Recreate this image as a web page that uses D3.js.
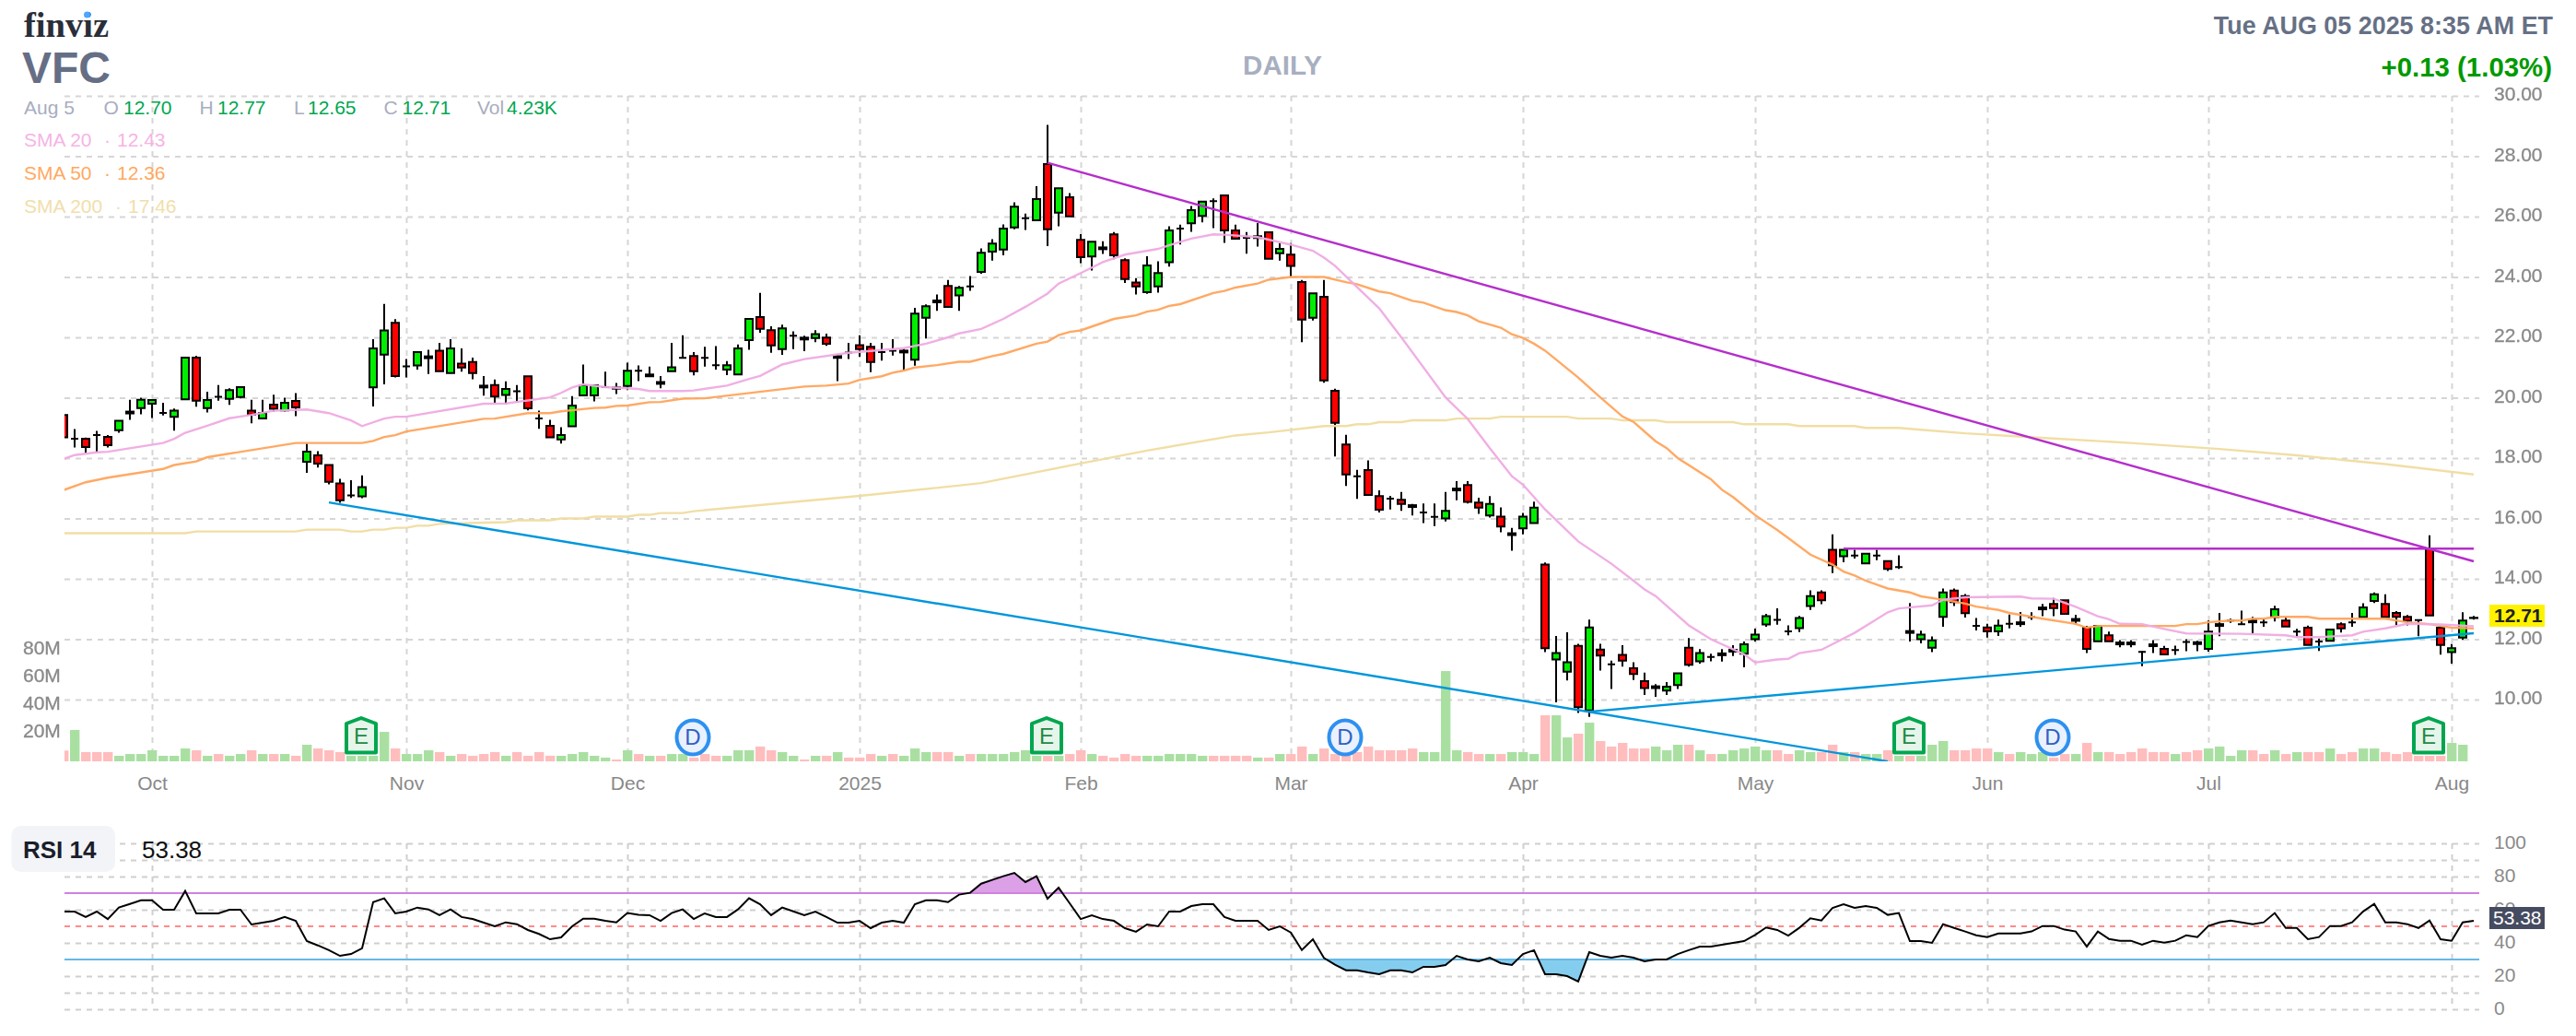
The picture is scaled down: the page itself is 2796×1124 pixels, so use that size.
<!DOCTYPE html>
<html>
<head>
<meta charset="utf-8">
<script src="https://cdnjs.cloudflare.com/ajax/libs/d3/7.8.5/d3.min.js"></script>
<style>
html,body{margin:0;padding:0;background:#fff;}
svg{display:block;font-family:"Liberation Sans",Arial,sans-serif;}
.blur text{filter:blur(0.55px);stroke:#8a8a8a;stroke-width:.35px;}
</style>
</head>
<body>
<svg id="c" width="2796" height="1124"></svg>
<script>
const opens=[19.43,18.64,18.64,18.76,18.70,18.92,19.54,19.66,19.8,19.5,
19.37,19.95,21.33,19.66,20.03,19.96,20.02,19.57,19.31,19.77,
19.58,19.89,17.88,18.09,17.77,17.16,16.76,16.73,20.34,21.43,
22.48,21.04,21.07,21.37,21.56,20.82,21.13,21.18,20.4,20.42,
20.09,20.21,20.71,19.31,19.07,18.62,19.05,20.08,20.08,20.35,
20.34,20.39,20.89,20.77,20.52,20.88,21.32,21.38,21.32,21.08,
20.93,20.77,21.91,22.67,22.24,21.61,22.05,21.99,21.98,21.99,
21.38,21.5,21.74,21.69,21.51,21.56,21.56,21.26,22.65,23.22,
23.7,23.39,23.69,24.17,24.84,24.91,25.64,25.95,25.88,27.74,
26.13,26.64,25.23,24.68,24.98,25.41,24.56,23.82,23.5,23.69,
24.49,25.6,25.78,26.02,26.51,26.7,25.54,25.3,25.35,25.48,
24.79,24.74,23.83,22.65,23.34,20.23,18.45,17.4,17.6,16.74,
16.66,16.62,16.44,16.2,16.05,16.0,16.99,17.11,16.53,16.1,
16.06,15.51,15.67,15.85,14.47,11.33,10.92,11.78,9.64,11.66,
11.17,11.48,11.04,10.61,10.44,10.3,10.48,11.72,11.27,11.41,
11.53,11.65,11.52,12.0,12.49,12.64,12.26,12.37,13.1,13.55,
14.96,14.75,14.77,14.51,14.77,14.59,14.39,12.27,12.0,11.72,
12.74,13.61,13.43,12.44,12.39,12.26,12.51,12.56,12.73,13.05,
13.17,13.29,12.67,12.38,11.93,12.13,11.89,11.89,11.58,11.83,
11.68,11.64,11.91,11.9,11.68,12.5,12.62,12.5,12.62,12.56,
12.73,12.62,12.25,12.38,11.92,11.95,12.5,12.56,12.73,13.27,
13.17,12.87,12.74,12.63,15.0,12.38,11.57,12.05,12.70];

const highs=[19.43,18.96,18.68,18.90,18.76,19.24,19.93,20.0,19.95,19.83,
19.64,21.33,21.39,20.2,20.42,20.31,20.35,19.93,19.93,20.1,
20.0,20.15,18.48,18.23,17.77,17.31,17.27,17.43,21.94,23.11,
22.6,21.28,21.51,21.59,21.82,21.94,21.63,21.33,20.72,20.6,
20.54,20.42,20.71,19.57,19.27,19.02,20.05,21.1,20.41,20.86,
20.49,21.16,21.07,21.03,20.72,21.82,22.07,21.51,21.69,21.71,
21.21,21.76,22.61,23.47,22.37,22.42,22.2,22.05,22.24,22.12,
21.44,21.82,22.07,21.82,21.82,21.94,21.64,22.98,23.09,23.42,
23.9,23.7,24.03,24.95,25.25,25.74,26.47,26.1,27.01,29.04,
26.94,26.78,25.42,25.17,25.18,25.49,24.62,23.96,24.69,24.52,
25.68,25.73,26.35,26.5,26.6,26.7,25.73,25.49,25.79,25.48,
25.12,25.12,23.9,23.46,23.9,20.3,18.77,17.61,17.92,16.93,
16.75,16.88,16.48,16.5,16.5,16.88,17.24,17.24,16.69,16.74,
16.37,15.69,16.18,16.56,14.54,12.11,12.23,11.85,12.65,11.85,
11.29,11.8,11.24,10.89,10.51,10.58,10.87,12.04,11.67,11.52,
11.67,11.8,11.92,12.35,12.84,13.02,12.46,12.77,13.62,13.62,
15.47,14.96,14.96,14.83,14.96,14.59,14.78,13.2,12.28,12.09,
13.68,13.68,13.5,12.7,12.51,12.65,12.82,12.9,12.89,13.17,
13.37,13.29,12.81,12.44,12.44,12.25,11.97,11.97,11.6,11.97,
11.78,11.79,12.0,11.95,12.62,12.87,12.68,12.95,12.74,12.68,
13.11,12.73,12.34,12.45,12.02,12.32,12.56,12.87,13.19,13.55,
13.49,12.93,12.8,12.63,15.44,12.38,11.84,12.89,12.77];

const lows=[18.69,18.35,18.17,18.18,18.35,18.84,19.27,19.45,19.33,19.41,
18.91,19.95,19.7,19.51,19.9,19.76,19.98,19.15,19.31,19.54,
19.54,19.39,17.51,17.69,17.13,16.52,16.68,16.67,19.71,20.44,
20.67,20.67,20.93,20.79,20.88,20.82,20.86,20.61,20.07,19.83,
19.78,19.84,19.58,18.97,18.69,18.48,19.05,20.08,19.88,20.33,
20.12,20.25,20.55,20.7,20.31,20.88,21.3,20.74,21.03,20.93,
20.75,20.77,21.59,22.15,21.49,21.42,21.61,21.54,21.84,21.72,
20.55,21.28,21.35,20.85,21.23,21.4,20.9,21.06,21.96,22.88,
23.01,22.88,23.54,24.11,24.54,24.72,25.58,25.56,25.88,25.02,
25.68,26.01,24.46,24.21,24.76,24.59,23.8,23.42,23.44,23.48,
24.34,25.08,25.5,25.81,25.62,25.13,25.27,24.77,25.01,24.6,
24.54,24.0,21.84,22.56,20.5,18.05,17.08,16.65,16.78,16.2,
16.3,16.25,16.1,15.85,15.75,15.9,16.6,16.5,16.15,16.03,
15.54,14.93,15.47,15.85,11.57,9.91,10.63,9.56,9.43,10.96,
10.35,11.09,10.65,10.15,10.09,10.15,10.35,11.09,11.19,11.27,
11.26,11.44,11.07,11.92,12.41,12.48,12.13,12.24,12.97,13.16,
14.19,14.55,14.67,14.51,14.62,14.26,14.33,11.92,11.86,11.57,
12.41,13.1,12.72,12.29,12.05,12.11,12.36,12.41,12.64,12.76,
12.76,12.84,12.48,11.54,11.93,11.93,11.73,11.73,11.11,11.54,
11.5,11.48,11.6,11.6,11.59,12.1,12.54,12.48,12.2,12.41,
12.59,12.42,12.07,11.81,11.61,11.95,12.22,12.41,12.73,13.2,
12.73,12.46,12.46,12.1,12.79,11.49,11.19,11.98,12.65];

const closes=[18.69,18.64,18.37,18.76,18.43,19.24,19.48,19.93,19.92,19.5,
19.57,21.33,19.9,19.92,20.03,20.25,20.35,19.44,19.5,19.63,
19.83,19.68,18.21,17.82,17.21,16.6,16.76,17.04,21.63,22.23,
20.72,21.04,21.51,21.31,20.88,21.63,21.0,20.82,20.34,20.04,
20.29,20.21,19.65,19.31,18.69,18.76,19.74,20.41,20.41,20.35,
20.3,20.89,20.89,20.71,20.46,21.01,21.32,20.88,21.32,21.08,
21.08,21.63,22.61,22.28,21.73,22.3,22.05,21.93,22.11,21.79,
21.32,21.5,21.61,21.18,21.51,21.56,21.5,22.79,23.03,23.16,
23.01,23.64,23.69,24.8,25.11,25.6,26.33,25.95,26.58,25.58,
26.94,26.01,24.66,25.17,24.92,24.72,23.93,23.69,24.38,24.13,
25.54,25.6,26.21,26.5,26.51,25.54,25.27,25.3,25.29,24.6,
24.93,24.37,22.59,23.46,20.57,19.17,17.46,17.4,16.78,16.29,
16.66,16.48,16.38,16.2,16.05,16.25,16.93,16.55,16.36,16.48,
15.73,15.45,16.06,16.36,11.7,11.54,11.24,9.75,12.39,11.46,
11.17,11.29,10.85,10.38,10.38,10.43,10.87,11.15,11.54,11.41,
11.47,11.59,11.83,12.15,12.76,12.64,12.26,12.7,13.43,13.29,
14.45,14.96,14.77,14.83,14.77,14.33,14.39,12.21,12.15,11.96,
13.55,13.23,12.86,12.44,12.26,12.45,12.51,12.5,12.73,12.99,
13.03,12.84,12.61,11.68,12.44,11.93,11.83,11.83,11.58,11.77,
11.5,11.64,11.91,11.84,12.25,12.44,12.62,12.5,12.56,12.56,
12.99,12.42,12.25,11.81,11.92,12.32,12.36,12.56,13.05,13.49,
12.73,12.74,12.61,12.63,12.79,11.81,11.7,12.62,12.71];

const volumes=[7.8,22.7,6.7,6.7,6.7,4,5.3,5.3,8,4,
4,9.3,8,4,5.3,4,5.3,8,5.3,5.3,
5.3,4,12,9.3,8,6.7,4,4,4,21.3,
9.3,5.3,5.3,8,6.7,4,5.3,4,5.3,6.7,
4,6.7,4,6.7,4,4,5.3,6.7,4,2.7,
1.3,8,5.3,4,4,5.3,5.3,2.7,5.3,4,
4,8,8,10.7,8,6.7,4,1.3,4,4,
6.7,2.7,2.7,5.3,4,5.3,4,9.3,6.7,6.7,
6.7,4,5.3,5.3,5.3,5.3,6.7,8,4,4,
4,5.3,8,5.3,4,2.7,5.3,4,4,4,
5.3,5.3,5.3,4,4,4,4,4,2.7,2.7,
5.3,5.3,10.7,5.3,9.3,5.3,4,6.7,10.7,8,
8,8,9.3,6.7,6.7,65.3,8,6.7,5.3,5.3,
5.3,6.7,6.7,5.3,33.3,33.3,17.3,20,28,14.7,
10.7,13.3,9.3,9.3,10.7,8,12,12,8,5.3,
5.3,8,9.3,10.7,8,8,5.3,8,6.7,6.7,
12,6.7,6.7,5.3,5.3,8,4,4,4,12,
14.7,8,8,9.3,9.3,6.7,5.3,6.7,5.3,6.7,
2.7,5.3,5.3,13.3,6.7,6.7,5.3,6.7,9.3,6.7,
6.7,5.3,6.7,8,9.3,10.7,4,8,8,5.3,
8,5.3,6.7,6.7,6.7,9.3,5.3,6.7,9.3,9.3,
6.7,5.3,6.7,4,4,4,13.3,12,0];

const volumeUp=[0,1,0,0,0,1,1,1,1,1,
1,1,0,1,0,1,1,0,1,0,
1,0,1,0,0,0,1,1,1,1,
0,1,1,1,0,1,0,0,0,0,
1,0,0,0,0,1,1,1,1,1,
0,1,0,1,0,1,1,0,0,0,
1,1,1,0,0,1,1,0,1,0,
1,0,0,0,1,0,1,1,1,0,
0,1,0,1,1,1,1,1,1,0,
1,0,0,1,0,0,0,0,1,1,
1,1,1,1,0,0,0,0,1,0,
1,0,0,1,0,0,0,0,0,0,
0,0,0,1,1,1,1,0,0,1,
0,1,1,1,0,1,1,0,1,0,
0,0,0,0,1,1,1,0,1,0,
1,1,1,1,1,0,0,1,1,0,
0,1,0,1,1,0,1,0,1,1,
1,0,0,0,0,1,0,1,1,1,
0,0,1,0,1,0,0,0,0,0,
0,1,0,0,1,1,1,1,0,0,
1,0,1,0,0,1,0,0,1,1,
0,0,0,0,0,0,1,1,1];

const rsiValues=[58.9,58.9,55.6,58.9,54.4,61.3,63.5,65.7,65.7,60,
60,71.3,57.8,57.8,57.8,60,60,51.1,52.2,53.3,
55.6,53.3,41.1,38.5,35.6,32.2,33.3,36.7,64.6,66.9,
57.8,58.9,61.3,60.2,56.7,60.2,55.6,54.4,52.2,50,
52.4,51.3,47.8,45.4,42.2,43.3,50,54.6,54.6,53.3,
52.4,58,56.9,56.7,53.3,58,60.2,54.4,57.8,55.6,
55.6,60.2,66.9,63.3,56.7,61.3,59,56.7,58.9,55.6,
52.2,52.2,53.3,48.9,52.2,53.3,52.2,63.3,65.7,65.7,
64.6,69.1,70.2,75.7,78,80.2,82.2,76.7,80.2,66.7,
73.3,63.9,54.4,56.7,54.4,53.3,48.9,46.7,51.1,50,
58.9,58.9,62.2,63.3,63.3,55.6,53.3,53.3,53.3,47.8,
50,46.3,35.7,42.2,30.9,26.9,23.5,23.5,22.2,21.1,
23.5,23.5,22.2,25.6,25.6,26.7,32.2,30,28.9,31.1,
27.8,26.7,33.3,35.6,21.1,21.1,20,16.7,34.4,32.2,
31.1,32.2,31.1,28.9,30,30,33.3,35.6,37.8,37.8,
38.9,40,41.1,44.8,49.3,47.8,44.4,49.1,54.8,53.5,
61.1,63.3,61.1,62.2,61.1,56.9,58,41.1,41.1,40,
51.3,49,46.9,44.6,43.5,45.7,45.7,45.7,46.9,50.2,
50.2,48,46.9,37.8,46.9,42.4,41.3,41.3,38.9,41.3,
40.2,41.3,44.6,43.5,50.2,52.4,53.5,52.4,51.3,52.4,
58,49,49,42.2,43.5,50.2,50.2,52.4,59,63.5,
52.4,52.4,51.3,49,53.5,42.2,41.3,52.4,53.38];

// moving averages: [bar index, value] read at the visible bends of each line
const sma20=[[0,17.97],[1,18.1],[3,18.19],[4,18.21],[9,18.5],[10,18.64],[11,18.84],[13,19.07],[15,19.32],[17,19.43],[19,19.57],[22,19.61],[24,19.49],[26,19.25],[27,19.06],[29,19.31],[30,19.37],[31,19.37],[38,19.8],[40,19.81],[44,20.01],[45,20.16],[46,20.34],[47,20.44],[49,20.35],[52,20.29],[53,20.22],[56,20.22],[57,20.24],[60,20.4],[62,20.62],[63,20.72],[65,21.1],[67,21.28],[71,21.49],[76,21.64],[78,21.79],[80,22.0],[81,22.13],[83,22.28],[85,22.61],[87,23.01],[89,23.45],[90,23.78],[92,24.13],[94,24.49],[96,24.74],[99,24.93],[100,25.05],[102,25.27],[104,25.41],[105,25.4],[108,25.32],[111,25.07],[113,24.87],[114,24.64],[115,24.37],[119,22.96],[121,22.0],[125,20.01],[127,19.3],[129,18.33],[131,17.4],[132,17.12],[134,16.3],[137,15.24],[140,14.5],[142,13.94],[143,13.65],[144,13.43],[147,12.46],[149,12.0],[152,11.5],[153,11.23],[155,11.33],[156,11.35],[157,11.54],[159,11.65],[162,12.21],[165,12.89],[166,13.02],[169,13.12],[170,13.31],[172,13.39],[177,13.41],[178,13.35],[180,13.34],[182,13.07],[184,12.76],[185,12.66],[186,12.51],[188,12.5],[190,12.34],[192,12.19],[197,12.18],[201,12.13],[202,12.07],[204,12.07],[207,12.13],[208,12.25],[210,12.36],[212,12.51],[215,12.49],[218,12.43]];
const sma50=[[0,16.94],[2,17.2],[4,17.35],[9,17.64],[10,17.77],[12,17.89],[13,18.03],[21,18.5],[27,18.5],[28,18.57],[29,18.7],[30,18.76],[31,18.88],[38,19.3],[39,19.31],[42,19.49],[44,19.49],[45,19.55],[48,19.66],[49,19.67],[50,19.73],[51,19.74],[53,19.85],[54,19.86],[56,19.97],[58,19.98],[67,20.37],[69,20.4],[71,20.47],[72,20.59],[74,20.71],[75,20.83],[76,20.9],[77,21.0],[79,21.08],[81,21.19],[82,21.19],[84,21.38],[85,21.45],[88,21.79],[89,21.86],[90,22.07],[91,22.18],[92,22.23],[95,22.61],[97,22.73],[98,22.85],[99,22.91],[100,23.04],[101,23.1],[104,23.47],[105,23.54],[106,23.65],[108,23.78],[109,23.91],[111,24.0],[114,24.0],[116,23.83],[117,23.76],[119,23.52],[120,23.46],[122,23.21],[123,23.15],[125,22.9],[126,22.84],[127,22.73],[128,22.53],[130,22.32],[131,22.1],[132,21.98],[133,21.79],[134,21.56],[137,20.67],[139,20.01],[141,19.38],[142,19.2],[144,18.56],[145,18.33],[146,18.0],[149,17.3],[150,16.95],[151,16.71],[153,16.11],[155,15.62],[156,15.35],[158,14.8],[160,14.47],[161,14.24],[162,14.11],[163,13.94],[165,13.68],[167,13.55],[168,13.42],[170,13.31],[172,13.18],[173,13.08],[175,12.97],[176,12.87],[179,12.68],[182,12.51],[183,12.38],[184,12.44],[191,12.44],[192,12.5],[193,12.5],[194,12.56],[196,12.62],[197,12.62],[198,12.68],[199,12.68],[200,12.74],[203,12.74],[204,12.68],[210,12.68],[212,12.56],[214,12.5],[216,12.38],[218,12.36]];
const sma200=[[0,15.51],[11,15.51],[12,15.57],[21,15.57],[22,15.63],[25,15.63],[26,15.57],[27,15.57],[28,15.63],[29,15.63],[30,15.69],[31,15.69],[32,15.76],[33,15.76],[34,15.82],[40,15.88],[41,15.94],[44,15.94],[45,16.0],[47,16.0],[48,16.06],[51,16.06],[52,16.12],[53,16.12],[54,16.18],[56,16.18],[57,16.24],[72,16.75],[76,16.9],[83,17.17],[91,17.75],[98,18.25],[106,18.75],[109,18.85],[114,19.06],[116,19.06],[117,19.12],[118,19.12],[119,19.19],[121,19.19],[122,19.25],[125,19.25],[126,19.31],[129,19.31],[130,19.37],[136,19.37],[137,19.31],[140,19.31],[141,19.25],[144,19.25],[145,19.19],[151,19.19],[152,19.12],[156,19.12],[157,19.06],[162,19.06],[163,19.0],[166,19.0],[168,18.94],[172,18.82],[180,18.65],[187,18.5],[195,18.3],[202,18.09],[210,17.8],[218,17.46]];

const trendPurple=[[89,27.78],[218,14.58]];
const trendPurpleFlat=[[161,15.0],[218,15.0]];
const trendBlueDown=[[24,16.53],[165,7.95]];
const trendBlueUp=[[138,9.6],[218,12.2]];

const priceTicks=[10,12,14,16,18,20,22,24,26,28,30];
const volumeTicks=[20,40,60,80];
const rsiGrid=[0,10,20,30,40,50,60,70,80,90,100];
const rsiTicks=[0,20,40,60,80,100];
const monthBars=[8,31,51,72,92,111,132,153,174,194,216];
const monthLabels=["Oct","Nov","Dec","2025","Feb","Mar","Apr","May","Jun","Jul","Aug"];
const earningsBars=[27,89,167,214];
const dividendBars=[57,116,180];

const quoteRow=[["Aug 5",26,"#a8adc0"],["O",112.5,"#a8adc0"],["12.70",134,"#00a650"],["H",216.5,"#a8adc0"],["12.77",236,"#00a650"],["L",319,"#a8adc0"],["12.65",334,"#00a650"],["C",416.5,"#a8adc0"],["12.71",436.6,"#00a650"],["Vol",518,"#a8adc0"],["4.23K",550,"#00a650"]];
const smaLegend=[["SMA 20","12.43","#f6b4e4",127],["SMA 50","12.36","#ffa95f",127],["SMA 200","17.46","#f2deaa",139]];

const x=d3.scaleLinear().domain([0,218]).range([69,2685]);
const yP=d3.scaleLinear().domain([10,30]).range([759,104]);
const yV=d3.scaleLinear().domain([0,80]).range([826,706]);
const yR=d3.scaleLinear().domain([0,100]).range([1095,915]);

const svg=d3.select("#c");
const defs=svg.append("defs");
defs.append("clipPath").attr("id","plot").append("rect").attr("x",70).attr("y",90).attr("width",2621).attr("height",736);
defs.append("clipPath").attr("id","rsiClip").append("rect").attr("x",70).attr("y",905).attr("width",2621).attr("height",200);
defs.append("clipPath").attr("id","ob").append("rect").attr("x",70).attr("y",905).attr("width",2621).attr("height",yR(70)-905);
defs.append("clipPath").attr("id","os").append("rect").attr("x",70).attr("y",yR(30)).attr("width",2621).attr("height",1105-yR(30));

const gridColor="#d6d6d6", gridDash="6 6";
function hGrid(scale,ticks,color){
  const g=svg.append("g").attr("transform","translate(70,0)")
    .call(d3.axisRight(scale).tickValues(ticks).tickSize(2621).tickFormat(""));
  g.select(".domain").remove();
  g.selectAll("line").attr("stroke",color).attr("stroke-width",2).attr("stroke-dasharray",gridDash);
  return g;
}
function vGrid(top,bottom,color){
  const g=svg.append("g").attr("transform",`translate(0,${top})`)
    .call(d3.axisBottom(x).tickValues(monthBars).tickSize(bottom-top).tickFormat(""));
  g.select(".domain").remove();
  g.selectAll("line").attr("stroke",color).attr("stroke-width",2).attr("stroke-dasharray",gridDash);
}
hGrid(yP,priceTicks,gridColor);
vGrid(104,826,gridColor);
hGrid(yR,rsiGrid.filter(d=>d!==30&&d!==50&&d!==70),"#cfcfcf");
vGrid(915,1095,"#cfcfcf");

// price axis labels
const pa=svg.append("g").attr("class","blur").attr("transform","translate(2707,0)")
  .call(d3.axisRight(yP).tickValues(priceTicks).tickSize(0).tickPadding(0).tickFormat(d3.format(".2f")));
pa.select(".domain").remove();
pa.selectAll("text").attr("fill","#8a8a8a").attr("font-size",21).attr("font-family","Liberation Sans").attr("dy",4.5).attr("dominant-baseline","auto");

// volume axis labels
const va=svg.append("g").attr("class","blur").attr("transform","translate(25,0)")
  .call(d3.axisRight(yV).tickValues(volumeTicks).tickSize(0).tickPadding(0).tickFormat(d=>d+"M"));
va.select(".domain").remove();
va.selectAll("text").attr("fill","#8a8a8a").attr("font-size",21).attr("font-family","Liberation Sans").attr("dy",3.5).attr("dominant-baseline","auto");

// month axis labels
const ma=svg.append("g").attr("transform","translate(0,857)")
  .call(d3.axisBottom(x).tickValues(monthBars).tickSize(0).tickPadding(0).tickFormat((d,i)=>monthLabels[i]));
ma.select(".domain").remove();
ma.selectAll("text").attr("fill","#888").attr("font-size",21).attr("font-family","Liberation Sans").attr("dy",0).attr("y",0);

// rsi axis labels
const ra=svg.append("g").attr("transform","translate(2707,0)")
  .call(d3.axisRight(yR).tickValues(rsiTicks).tickSize(0).tickPadding(0));
ra.select(".domain").remove();
ra.selectAll("text").attr("fill","#8a8a8a").attr("font-size",21).attr("font-family","Liberation Sans").attr("dy",5).attr("dominant-baseline","auto");

// plot
const plot=svg.append("g").attr("clip-path","url(#plot)");
// volume
plot.append("g").selectAll("rect").data(volumes).join("rect")
  .attr("x",(d,i)=>x(i)-5).attr("width",10.4)
  .attr("y",d=>yV(d)).attr("height",d=>yV(0)-yV(d))
  .attr("fill",(d,i)=>volumeUp[i]?"#a9e0a2":"#ffbdbd");

// candles
const bars=d3.range(opens.length);
const cg=plot.append("g");
cg.selectAll("line").data(bars).join("line")
  .attr("x1",i=>x(i)).attr("x2",i=>x(i))
  .attr("y1",i=>yP(highs[i])).attr("y2",i=>yP(lows[i]))
  .attr("stroke","#000").attr("stroke-width",2);
cg.selectAll("path").data(bars).join("path")
  .attr("d",i=>{
    const top=yP(Math.max(opens[i],closes[i])), h=yP(Math.min(opens[i],closes[i]))-top;
    return `M${x(i)-4},${top}h8v${h}h-8Z`;
  })
  .attr("fill",i=>closes[i]>=opens[i]?"#00ee00":"#ff0000")
  .attr("stroke","#000").attr("stroke-width",2);

// moving averages
const mLine=d3.line().x(d=>x(d[0])).y(d=>yP(d[1]));
[[sma200,"#f0dca0"],[sma50,"#ffa45c"],[sma20,"#efabe2"]].forEach(([s,c])=>{
  plot.append("path").attr("d",mLine(s)).attr("fill","none").attr("stroke",c).attr("stroke-width",2.4).attr("opacity",.95);
});

// trend lines
[[trendPurple,"#b52ecb"],[trendPurpleFlat,"#b52ecb"],[trendBlueDown,"#0096dc"],[trendBlueUp,"#0096dc"]].forEach(([s,c])=>{
  plot.append("path").attr("d",mLine(s)).attr("fill","none").attr("stroke",c).attr("stroke-width",2.4);
});

// earnings markers
const eg=svg.append("g").selectAll("g").data(earningsBars).join("g").attr("transform",d=>`translate(${x(d)-1},0)`);
eg.append("path").attr("d","M-16,785L0,779L16,785V816.5H-16Z").attr("fill","#e6f5ea").attr("stroke","#00a64f").attr("stroke-width",4).attr("stroke-linejoin","round");
eg.append("text").attr("text-anchor","middle").attr("y",807).attr("font-size",24).attr("fill","#1d8a43").text("E");
// dividend markers
const dg=svg.append("g").selectAll("g").data(dividendBars).join("g").attr("transform",d=>`translate(${x(d)-1},800)`);
dg.append("ellipse").attr("rx",17.5).attr("ry",18.5).attr("fill","#e8f1fd").attr("stroke","#2e90f0").attr("stroke-width",4);
dg.append("text").attr("text-anchor","middle").attr("y",8).attr("font-size",24).attr("fill","#2f5fc4").text("D");

// current price tag
svg.append("rect").attr("x",2702).attr("y",656).attr("width",60).attr("height",24).attr("fill","#fff200");
svg.append("text").attr("x",2707).attr("y",675).attr("font-size",21).attr("font-weight","bold").attr("fill","#222").text(closes[closes.length-1].toFixed(2));

// RSI
const rsiArea=base=>d3.area().x((d,i)=>x(i)).y0(yR(base)).y1(d=>yR(d));
svg.append("path").attr("clip-path","url(#ob)").attr("d",rsiArea(70)(rsiValues)).attr("fill","#dca0e6");
svg.append("path").attr("clip-path","url(#os)").attr("d",rsiArea(30)(rsiValues)).attr("fill","#85cdef");
svg.append("line").attr("x1",70).attr("x2",2691).attr("y1",yR(70)).attr("y2",yR(70)).attr("stroke","#d081e0").attr("stroke-width",2);
svg.append("line").attr("x1",70).attr("x2",2691).attr("y1",yR(30)).attr("y2",yR(30)).attr("stroke","#63b9e6").attr("stroke-width",2);
svg.append("line").attr("x1",70).attr("x2",2691).attr("y1",yR(50)).attr("y2",yR(50)).attr("stroke","#ff8a8a").attr("stroke-width",2).attr("stroke-dasharray",gridDash);
svg.append("path").attr("clip-path","url(#rsiClip)").attr("d",d3.line().x((d,i)=>x(i)).y(d=>yR(d))(rsiValues)).attr("fill","none").attr("stroke","#000").attr("stroke-width",2);
svg.append("rect").attr("x",2702).attr("y",984).attr("width",60).attr("height",24).attr("fill","#454b60");
svg.append("text").attr("x",2706).attr("y",1003).attr("font-size",21).attr("fill","#fff").text("53.38");

svg.append("rect").attr("x",12.5).attr("y",896).attr("width",112.5).attr("height",50).attr("rx",10).attr("fill","#f3f4f7");
svg.append("text").attr("x",25).attr("y",931).attr("font-size",26).attr("font-weight","bold").attr("fill","#1a1e2c").text("RSI 14");
svg.append("text").attr("x",154).attr("y",931).attr("font-size",26).attr("fill","#111").text("53.38");

// header
svg.append("text").attr("x",26).attr("y",40).attr("font-size",38).attr("font-weight","bold").attr("font-family","Liberation Serif").attr("fill","#2a2e39").attr("textLength",92).attr("lengthAdjust","spacingAndGlyphs").text("finviz");
svg.append("circle").attr("cx",94.5).attr("cy",16).attr("r",3.5).attr("fill","#4da6ff");
svg.append("text").attr("x",24).attr("y",90).attr("font-size",48).attr("font-weight","bold").attr("fill","#666e85").text("VFC");
svg.append("text").attr("x",1392).attr("y",81).attr("text-anchor","middle").attr("font-size",29.5).attr("font-weight","bold").attr("fill","#a8afc0").text("DAILY");
svg.append("text").attr("x",2771).attr("y",37).attr("text-anchor","end").attr("font-size",26.9).attr("font-weight","bold").attr("fill","#667085").text("Tue AUG 05 2025 8:35 AM ET");
svg.append("text").attr("x",2770).attr("y",83).attr("text-anchor","end").attr("font-size",29.4).attr("font-weight","bold").attr("fill","#009900").text("+0.13 (1.03%)");

svg.append("g").selectAll("text").data(quoteRow).join("text")
  .attr("x",d=>d[1]).attr("y",124).attr("font-size",21).attr("fill",d=>d[2]).text(d=>d[0]);
const lg=svg.append("g").selectAll("g").data(smaLegend).join("g").attr("font-size",21);
lg.append("text").attr("x",26).attr("y",(d,i)=>160+36*i-1.5).attr("fill",d=>d[2]).text(d=>d[0]);
lg.append("text").attr("x",d=>d[3]-14).attr("y",(d,i)=>160+36*i-1.5).attr("fill",d=>d[2]).text("·");
lg.append("text").attr("x",d=>d[3]).attr("y",(d,i)=>160+36*i-1.5).attr("fill",d=>d[2]).text(d=>d[1]);
</script>
</body>
</html>
